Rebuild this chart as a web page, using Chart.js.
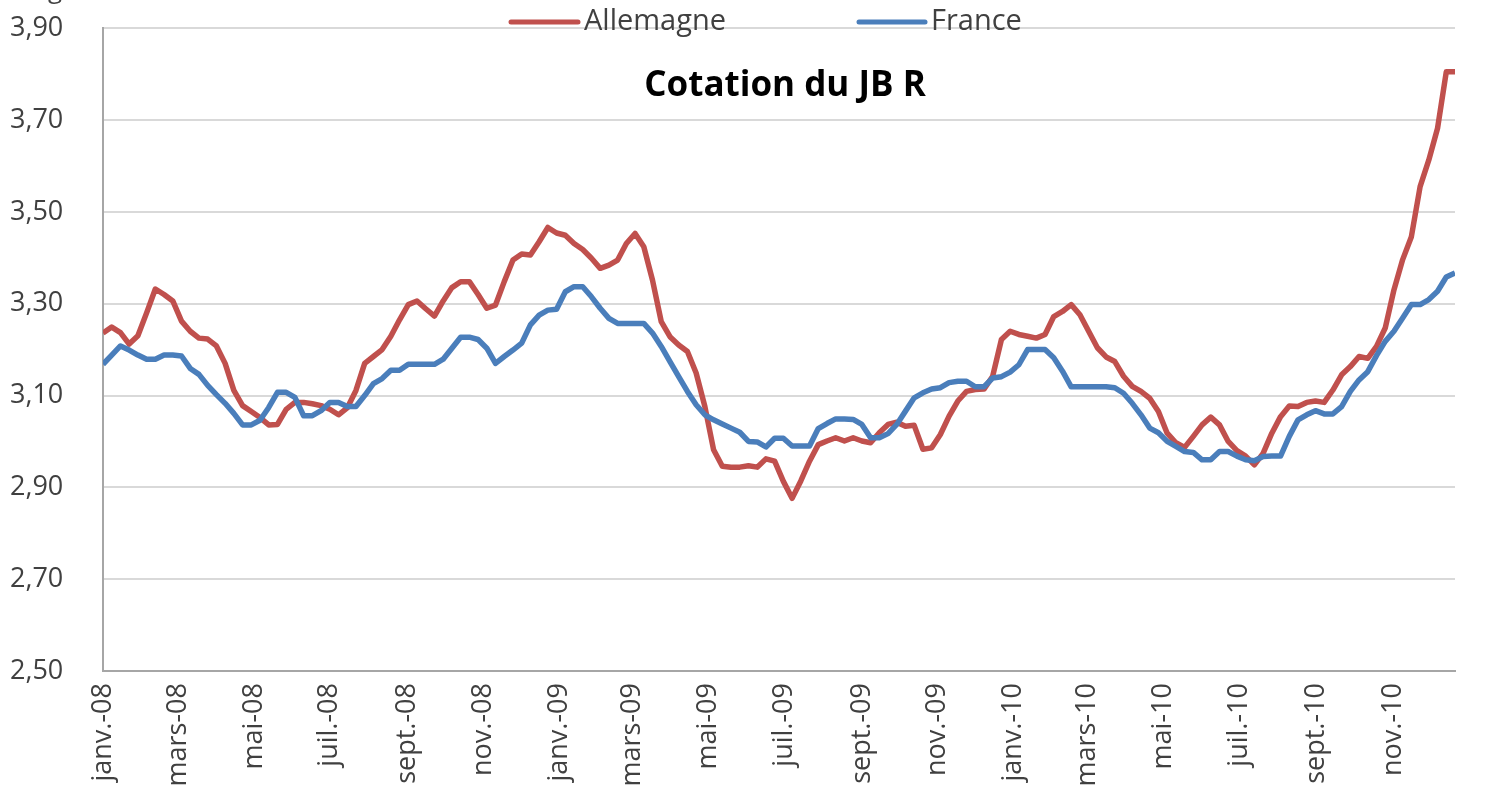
<!DOCTYPE html>
<html>
<head>
<meta charset="utf-8">
<title>Cotation du JB R</title>
<script src="https://cdn.jsdelivr.net/npm/chart.js@4.4.1/dist/chart.umd.min.js"></script>
<style>
  html, body { margin: 0; padding: 0; background: #ffffff; }
  #chart { display: block; }
</style>
</head>
<body>
<canvas id="chart" width="1491" height="799"></canvas>
<script>
// weekly quotes, first week of janv.-08 to last week of déc.-10 (€/kg)
const allemagne = [
  3.236, 3.249, 3.237, 3.212, 3.230, 3.280, 3.332, 3.320, 3.306, 3.262,
  3.240, 3.225, 3.223, 3.208, 3.170, 3.111, 3.078, 3.065, 3.052, 3.036,
  3.037, 3.070, 3.085, 3.085, 3.082, 3.078, 3.070, 3.058, 3.073, 3.111,
  3.170, 3.185, 3.200, 3.229, 3.265, 3.298, 3.306, 3.289, 3.273, 3.306,
  3.335, 3.348, 3.348, 3.320, 3.290, 3.297, 3.348, 3.395, 3.408, 3.406,
  3.435, 3.466, 3.454, 3.449, 3.431, 3.418, 3.399, 3.377, 3.384, 3.395,
  3.431, 3.453, 3.424, 3.351, 3.261, 3.228, 3.210, 3.196, 3.149, 3.076,
  2.982, 2.946, 2.944, 2.944, 2.947, 2.944, 2.962, 2.957, 2.913, 2.876,
  2.914, 2.957, 2.993, 3.001, 3.008, 3.001, 3.008, 3.001, 2.997, 3.019,
  3.037, 3.042, 3.033, 3.035, 2.983, 2.986, 3.015, 3.055, 3.088, 3.109,
  3.113, 3.114, 3.142, 3.222, 3.240, 3.233, 3.229, 3.225, 3.233, 3.272,
  3.283, 3.298, 3.276, 3.240, 3.204, 3.184, 3.174, 3.142, 3.120, 3.109,
  3.094, 3.065, 3.018, 2.997, 2.987, 3.011, 3.036, 3.053, 3.036, 3.000,
  2.980, 2.968, 2.949, 2.974, 3.018, 3.054, 3.077, 3.076, 3.085, 3.088,
  3.085, 3.112, 3.145, 3.163, 3.185, 3.181, 3.207, 3.247, 3.330, 3.396,
  3.446, 3.555, 3.613, 3.682, 3.805, 3.805
];

const france = [
  3.168, 3.188, 3.208, 3.199, 3.188, 3.179, 3.179, 3.188, 3.188, 3.186,
  3.159, 3.146, 3.122, 3.102, 3.083, 3.061, 3.036, 3.036, 3.046, 3.074,
  3.107, 3.107, 3.096, 3.056, 3.056, 3.067, 3.085, 3.085, 3.076, 3.076,
  3.100, 3.126, 3.137, 3.155, 3.155, 3.168, 3.168, 3.168, 3.168, 3.179,
  3.203, 3.227, 3.227, 3.222, 3.203, 3.170, 3.185, 3.199, 3.214, 3.254,
  3.275, 3.286, 3.288, 3.326, 3.337, 3.337, 3.315, 3.290, 3.268, 3.257,
  3.257, 3.257, 3.257, 3.236, 3.207, 3.174, 3.141, 3.109, 3.080, 3.058,
  3.047, 3.038, 3.029, 3.020, 3.000, 2.999, 2.988, 3.007, 3.007, 2.990,
  2.990, 2.990, 3.028, 3.039, 3.049, 3.049, 3.048, 3.037, 3.008, 3.008,
  3.017, 3.037, 3.066, 3.095, 3.106, 3.114, 3.117, 3.128, 3.131, 3.131,
  3.119, 3.119, 3.138, 3.141, 3.151, 3.167, 3.200, 3.200, 3.200, 3.182,
  3.153, 3.119, 3.119, 3.119, 3.119, 3.119, 3.117, 3.105, 3.083, 3.058,
  3.029, 3.019, 3.000, 2.989, 2.978, 2.976, 2.960, 2.960, 2.978, 2.978,
  2.968, 2.960, 2.958, 2.967, 2.968, 2.968, 3.011, 3.047, 3.058, 3.067,
  3.060, 3.060, 3.076, 3.109, 3.134, 3.152, 3.187, 3.218, 3.240, 3.269,
  3.298, 3.298, 3.309, 3.327, 3.358, 3.367
];

// x labels every two months, placed at the week where the month starts
const tickLabels = [
  'janv.-08', 'mars-08', 'mai-08', 'juil.-08', 'sept.-08', 'nov.-08',
  'janv.-09', 'mars-09', 'mai-09', 'juil.-09', 'sept.-09', 'nov.-09',
  'janv.-10', 'mars-10', 'mai-10', 'juil.-10', 'sept.-10', 'nov.-10'
];
const tickWeeks = [
  0, 8.6, 17.3, 26, 34.9, 43.6,
  52.3, 60.7, 69.4, 78.1, 87, 95.7,
  104.4, 112.9, 121.6, 130.3, 139.1, 147.9
];

const seriesNames = ['Allemagne', 'France'];
const seriesColors = ['#C0504D', '#4A7EBB'];
const chartTitle = 'Cotation du JB R';
const unitLabel = '€/kg';

const FONT = "'Open Sans', 'Noto Sans', sans-serif";

function toPoints(values) {
  return values.map((v, i) => ({ x: i, y: v }));
}

// legend, title and the clipped unit label sit on top of the plot area,
// so they are drawn here instead of in the chart's own boxes
const overlayText = {
  id: 'overlayText',
  afterDraw(chart) {
    const ctx = chart.ctx;
    ctx.save();

    ctx.fillStyle = '#404040';
    ctx.font = `26px ${FONT}`;
    ctx.textAlign = 'left';
    ctx.textBaseline = 'alphabetic';
    ctx.fillText(unitLabel, 10, -2);

    const legendItems = [
      { x0: 511, x1: 578, textX: 584 },
      { x0: 859, x1: 925, textX: 931 }
    ];
    ctx.font = `29px ${FONT}`;
    ctx.textBaseline = 'middle';
    legendItems.forEach((item, i) => {
      ctx.strokeStyle = seriesColors[i];
      ctx.lineWidth = 5;
      ctx.lineCap = 'round';
      ctx.beginPath();
      ctx.moveTo(item.x0, 22);
      ctx.lineTo(item.x1, 22);
      ctx.stroke();
      ctx.fillStyle = '#404040';
      ctx.fillText(seriesNames[i], item.textX, 22);
    });

    ctx.fillStyle = '#000000';
    ctx.font = `bold 35px ${FONT}`;
    ctx.textAlign = 'center';
    ctx.fillText(chartTitle, 785, 86);
    ctx.restore();
  }
};

new Chart(document.getElementById('chart'), {
  type: 'line',
  data: {
    datasets: [
      {
        label: seriesNames[0],
        data: toPoints(allemagne),
        borderColor: seriesColors[0],
        backgroundColor: seriesColors[0],
        borderWidth: 5.5,
        pointRadius: 0,
        tension: 0,
        borderJoinStyle: 'round',
        order: 1
      },
      {
        label: seriesNames[1],
        data: toPoints(france),
        borderColor: seriesColors[1],
        backgroundColor: seriesColors[1],
        borderWidth: 5.5,
        pointRadius: 0,
        tension: 0,
        borderJoinStyle: 'round',
        order: 0
      }
    ]
  },
  options: {
    responsive: false,
    animation: false,
    layout: {
      padding: { left: 10, top: 10, right: 36, bottom: 0 }
    },
    plugins: {
      legend: { display: false },
      title: { display: false },
      tooltip: { enabled: false }
    },
    scales: {
      x: {
        type: 'linear',
        min: 0,
        max: allemagne.length - 1,
        afterBuildTicks(scale) {
          scale.ticks = tickWeeks.map(w => ({ value: w }));
        },
        afterFit(scale) {
          scale.height = 128;
        },
        grid: { display: false, drawTicks: false },
        border: { display: true, color: '#A6A6A6', width: 2 },
        ticks: {
          autoSkip: false,
          minRotation: 90,
          maxRotation: 90,
          padding: 12,
          color: '#404040',
          font: { family: FONT, size: 27 },
          callback: (value, index) => tickLabels[index]
        }
      },
      y: {
        min: 2.5,
        max: 3.9,
        afterFit(scale) {
          scale.width = 93;
        },
        grid: { color: '#D9D9D9', lineWidth: 2, drawTicks: false },
        border: { display: true, color: '#A6A6A6', width: 2 },
        ticks: {
          stepSize: 0.2,
          padding: 12,
          crossAlign: 'far',
          color: '#404040',
          font: { family: FONT, size: 27 },
          callback: value => value.toFixed(2).replace('.', ',')
        }
      }
    }
  },
  plugins: [overlayText]
});
</script>
</body>
</html>
